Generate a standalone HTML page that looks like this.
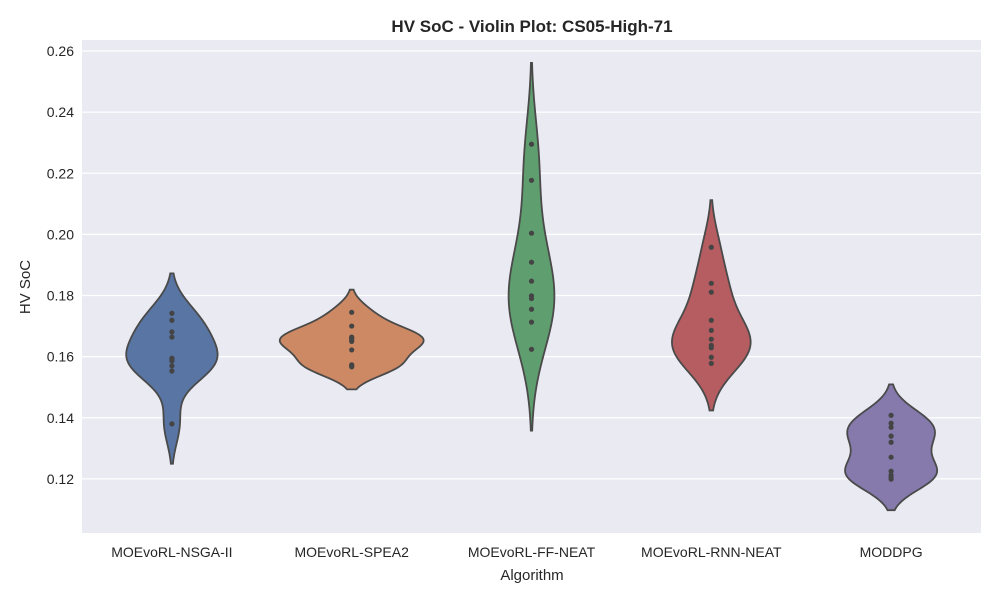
<!DOCTYPE html>
<html><head><meta charset="utf-8"><style>
body{margin:0;background:#fff;}
svg text{font-family:"Liberation Sans",Arial,sans-serif;fill:#262626;}
</style></head><body>
<svg id="chart" width="1000" height="600" xmlns="http://www.w3.org/2000/svg">
<text x="532" y="32" text-anchor="middle" font-size="17" font-weight="bold">HV SoC - Violin Plot: CS05-High-71</text>
<rect x="82" y="40" width="899" height="493" fill="#eaeaf2"/>
<g id="grid"></g><g id="violins"></g><g id="xticks"></g><g id="yticks"></g>
<text x="532" y="580" text-anchor="middle" font-size="15">Algorithm</text>
<text transform="translate(30,287) rotate(-90)" text-anchor="middle" font-size="15">HV SoC</text>
</svg>
<script>
const categories=["MOEvoRL-NSGA-II","MOEvoRL-SPEA2","MOEvoRL-FF-NEAT","MOEvoRL-RNN-NEAT","MODDPG"];
const seriesNSGA=[0.1742,0.1719,0.1681,0.1664,0.1595,0.1590,0.1586,0.1570,0.1553,0.1380];
const seriesSPEA=[0.1745,0.1700,0.1664,0.1660,0.1655,0.1650,0.1622,0.1573,0.1570,0.1567];
const seriesFF=[0.2295,0.2177,0.2004,0.1909,0.1847,0.1799,0.1790,0.1755,0.1713,0.1624];
const seriesRNN=[0.1958,0.1840,0.1811,0.1719,0.1686,0.1657,0.1637,0.1629,0.1598,0.1578];
const seriesMODDPG=[0.1408,0.1382,0.1369,0.1340,0.1320,0.1271,0.1225,0.1212,0.1205,0.1199];
const yTicks=[0.12,0.14,0.16,0.18,0.20,0.22,0.24,0.26];
const colors=["#5875a4","#cc8963","#5f9e6e","#b55d60","#857aab"];
const allSeries=[seriesNSGA,seriesSPEA,seriesFF,seriesRNN,seriesMODDPG];
const NS="http://www.w3.org/2000/svg";
const X0=82,X1=981,Y0=40,Y1=533,YMIN=0.1023,YMAX=0.2636;
const xs=i=>X0+(i+0.5)*(X1-X0)/categories.length;
const ys=v=>Y1-(v-YMIN)/(YMAX-YMIN)*(Y1-Y0);
function mk(tag,attrs,parent){const e=document.createElementNS(NS,tag);for(const k in attrs)e.setAttribute(k,attrs[k]);parent.appendChild(e);return e;}
const grid=document.getElementById('grid'),yt=document.getElementById('yticks'),xt=document.getElementById('xticks'),vg=document.getElementById('violins');
yTicks.forEach(t=>{
 const l=mk('line',{x1:X0,x2:X1,y1:ys(t),y2:ys(t),stroke:'#fff','stroke-width':1.2},grid);
 
 
 const tx=mk('text',{x:X0-8,y:ys(t)+5,'text-anchor':'end','font-size':14},yt);
 tx.textContent=t.toFixed(2);
 
 
});
categories.forEach((c,i)=>{
 const tx=mk('text',{x:xs(i),y:557,'text-anchor':'middle','font-size':14},xt);
 tx.textContent=c;
 
 
});
function kde(d){
 const n=d.length,m=d.reduce((a,b)=>a+b)/n;
 const sd=Math.sqrt(d.reduce((a,b)=>a+(b-m)*(b-m),0)/(n-1));
 const bw=sd*Math.pow(n,-0.2);
 const lo=Math.min(...d)-2*bw,hi=Math.max(...d)+2*bw;
 const pts=[];
 for(let k=0;k<100;k++){const y=lo+(hi-lo)*k/99;let s=0;d.forEach(v=>{const z=(y-v)/bw;s+=Math.exp(-0.5*z*z);});pts.push([y,s/(n*bw*Math.sqrt(2*Math.PI))]);}
 return pts;
}
const dens=allSeries.map(kde);
const maxD=Math.max(...dens.map(p=>Math.max(...p.map(q=>q[1]))));
const half=0.4*(X1-X0)/categories.length;
dens.forEach((p,i)=>{
 const cx=xs(i);
 let path=p.map((q,k)=>(k?'L':'M')+(cx+q[1]/maxD*half).toFixed(2)+','+ys(q[0]).toFixed(2)).join('');
 path+=p.slice().reverse().map(q=>'L'+(cx-q[1]/maxD*half).toFixed(2)+','+ys(q[0]).toFixed(2)).join('')+'Z';
 const e=mk('path',{d:path,fill:colors[i],stroke:'#4a4a4a','stroke-width':1.8},vg);
 
 
 allSeries[i].forEach(v=>{
  const c=mk('circle',{cx:cx,cy:ys(v),r:2.6,fill:'#444'},vg);
  
  
 });
});
</script>
</body></html>
